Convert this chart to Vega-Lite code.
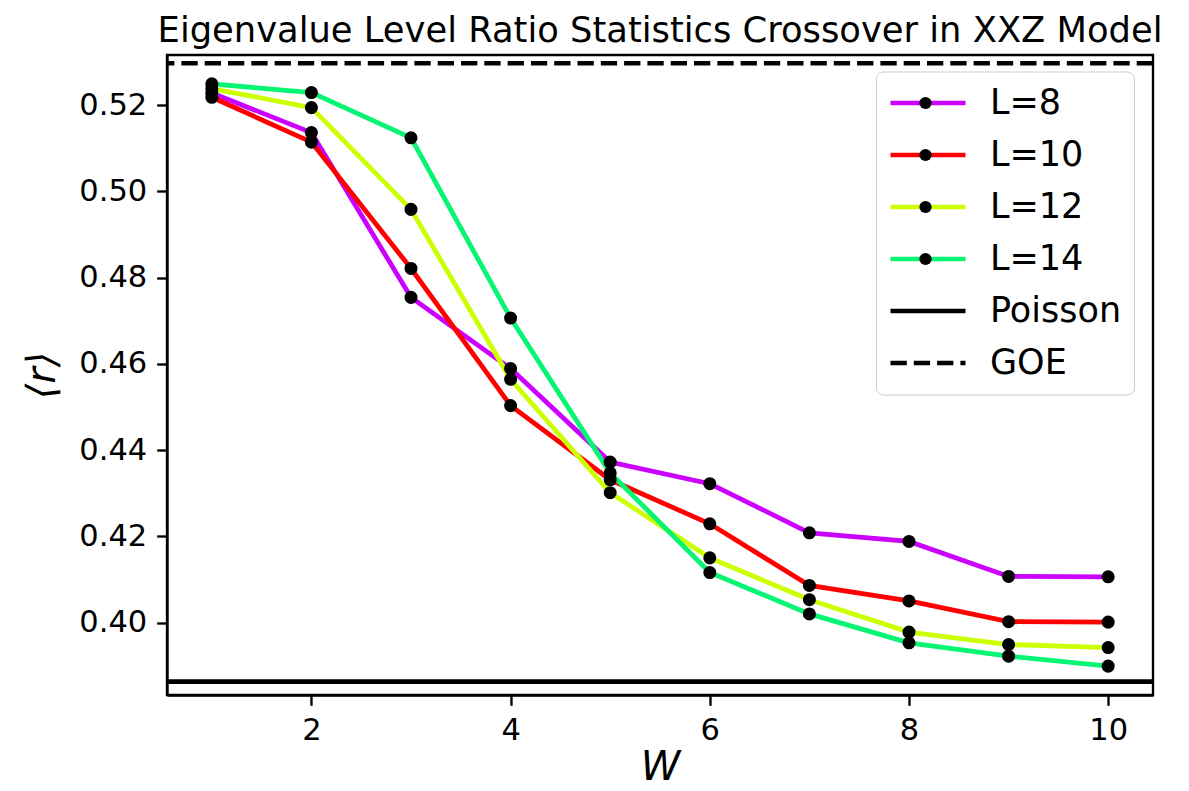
{
  "$schema": "https://vega.github.io/schema/vega-lite/v6.json",
  "autosize": "none",
  "width": 986,
  "height": 640,
  "padding": {"left": 167, "top": 55, "right": 36, "bottom": 96},
  "background": "white",
  "config": {
    "font": "DejaVu Sans",
    "view": {"stroke": "black", "strokeWidth": 2.35},
    "axis": {
      "grid": false,
      "domainColor": "black",
      "domainWidth": 2.35,
      "tickColor": "black",
      "tickWidth": 2.35,
      "tickSize": 10.3,
      "labelColor": "black",
      "labelFont": "DejaVu Sans",
      "labelFontSize": 30.5,
      "labelPadding": 10,
      "titleColor": "black",
      "titleFont": "DejaVu Sans",
      "titleFontSize": 40,
      "titleFontWeight": "normal",
      "titleFontStyle": "italic"
    }
  },
  "title": {
    "text": "Eigenvalue Level Ratio Statistics Crossover in XXZ Model",
    "font": "DejaVu Sans",
    "fontSize": 35.3,
    "fontWeight": "normal",
    "color": "black",
    "anchor": "middle",
    "baseline": "bottom",
    "offset": 9,
    "dy": 38
  },
  "datasets": {
    "series": [
      {"W": 1, "L": "L=8", "r": 0.5228},
      {"W": 2, "L": "L=8", "r": 0.5136},
      {"W": 3, "L": "L=8", "r": 0.4754},
      {"W": 4, "L": "L=8", "r": 0.4589},
      {"W": 5, "L": "L=8", "r": 0.4372},
      {"W": 6, "L": "L=8", "r": 0.4322},
      {"W": 7, "L": "L=8", "r": 0.4208},
      {"W": 8, "L": "L=8", "r": 0.4188},
      {"W": 9, "L": "L=8", "r": 0.4107},
      {"W": 10, "L": "L=8", "r": 0.4106},
      {"W": 1, "L": "L=10", "r": 0.5218},
      {"W": 2, "L": "L=10", "r": 0.5114},
      {"W": 3, "L": "L=10", "r": 0.4821},
      {"W": 4, "L": "L=10", "r": 0.4503},
      {"W": 5, "L": "L=10", "r": 0.4331},
      {"W": 6, "L": "L=10", "r": 0.4229},
      {"W": 7, "L": "L=10", "r": 0.4086},
      {"W": 8, "L": "L=10", "r": 0.4050},
      {"W": 9, "L": "L=10", "r": 0.4002},
      {"W": 10, "L": "L=10", "r": 0.4001},
      {"W": 1, "L": "L=12", "r": 0.5238},
      {"W": 2, "L": "L=12", "r": 0.5194},
      {"W": 3, "L": "L=12", "r": 0.4958},
      {"W": 4, "L": "L=12", "r": 0.4564},
      {"W": 5, "L": "L=12", "r": 0.4301},
      {"W": 6, "L": "L=12", "r": 0.4150},
      {"W": 7, "L": "L=12", "r": 0.4053},
      {"W": 8, "L": "L=12", "r": 0.3978},
      {"W": 9, "L": "L=12", "r": 0.3949},
      {"W": 10, "L": "L=12", "r": 0.3942},
      {"W": 1, "L": "L=14", "r": 0.5249},
      {"W": 2, "L": "L=14", "r": 0.5229},
      {"W": 3, "L": "L=14", "r": 0.5124},
      {"W": 4, "L": "L=14", "r": 0.4706},
      {"W": 5, "L": "L=14", "r": 0.4347},
      {"W": 6, "L": "L=14", "r": 0.4116},
      {"W": 7, "L": "L=14", "r": 0.4020},
      {"W": 8, "L": "L=14", "r": 0.3953},
      {"W": 9, "L": "L=14", "r": 0.3922},
      {"W": 10, "L": "L=14", "r": 0.3899}
    ],
    "limits": [
      {"L": "Poisson", "r": 0.3863},
      {"L": "GOE", "r": 0.5297}
    ]
  },
  "layer": [
    {
      "data": {"name": "limits"},
      "mark": {"type": "rule", "strokeWidth": 4.6},
      "encoding": {
        "y": {
          "field": "r",
          "type": "quantitative",
          "scale": {"domain": [0.3832, 0.5316], "nice": false, "zero": false},
          "axis": {
            "title": "⟨r⟩",
            "values": [0.40, 0.42, 0.44, 0.46, 0.48, 0.50, 0.52],
            "format": ".2f",
            "titlePadding": 16
          }
        },
        "color": {
          "field": "L",
          "type": "nominal",
          "scale": {
            "domain": ["L=8", "L=10", "L=12", "L=14", "Poisson", "GOE"],
            "range": ["#cc00ff", "#ff0000", "#ccff00", "#06f572", "#000000", "#000000"]
          },
          "legend": {
            "title": null,
            "orient": "none",
            "legendX": 709,
            "legendY": 16.5,
            "symbolType": "stroke",
            "symbolSize": 5625,
            "symbolStrokeWidth": 4.6,
            "labelFont": "DejaVu Sans",
            "labelFontSize": 35,
            "labelColor": "black",
            "labelOffset": 22,
            "clipHeight": 39,
            "rowPadding": 13,
            "padding": 12,
            "strokeColor": "#cccccc",
            "fillColor": "rgba(255,255,255,0.8)",
            "cornerRadius": 7,
            "encode": {
              "symbols": {
                "update": {
                  "strokeDash": {"signal": "datum.value === 'GOE' ? [16.3, 7] : [1, 0]"}
                }
              }
            }
          }
        },
        "strokeDash": {
          "field": "L",
          "type": "nominal",
          "scale": {"domain": ["Poisson", "GOE"], "range": [[1, 0], [16.3, 7]]},
          "legend": null
        }
      }
    },
    {
      "data": {"name": "series"},
      "mark": {"type": "line", "strokeWidth": 4.8},
      "encoding": {
        "x": {
          "field": "W",
          "type": "quantitative",
          "scale": {"domain": [0.55, 10.45], "nice": false, "zero": false},
          "axis": {"title": "W", "values": [2, 4, 6, 8, 10], "format": "d", "titlePadding": 2}
        },
        "y": {"field": "r", "type": "quantitative"},
        "color": {"field": "L", "type": "nominal"}
      }
    },
    {
      "data": {"name": "series"},
      "mark": {"type": "point", "filled": true, "opacity": 1, "size": 170, "color": "black"},
      "encoding": {
        "x": {"field": "W", "type": "quantitative"},
        "y": {"field": "r", "type": "quantitative"},
        "shape": {
          "field": "L",
          "type": "nominal",
          "scale": {"domain": ["L=8", "L=10", "L=12", "L=14"], "range": ["circle"]},
          "legend": {
            "title": null,
            "orient": "none",
            "legendX": 709,
            "legendY": 16.5,
            "symbolSize": 150,
            "symbolFillColor": "black",
            "symbolStrokeColor": "black",
            "symbolStrokeWidth": 0,
            "symbolOffset": 20,
            "labelFontSize": 35,
            "labelExpr": "''",
            "labelOffset": 22,
            "clipHeight": 39,
            "rowPadding": 13,
            "padding": 12
          }
        }
      }
    }
  ]
}
